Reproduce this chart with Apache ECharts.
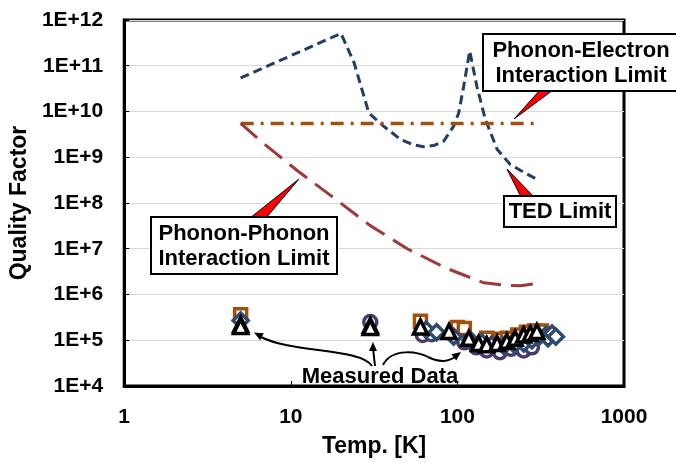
<!DOCTYPE html>
<html><head><meta charset="utf-8">
<script src="https://cdn.jsdelivr.net/npm/echarts@6/dist/echarts.min.js"></script>
<style>html,body{margin:0;padding:0;background:#fff}#c{width:676px;height:463px}</style>
</head><body><div id="c"></div>
<script>
// ---- data ----
var tedT = [5, 20, 24, 29.4, 36, 45.6, 55, 62.8, 72, 82.8, 95, 101.8, 109, 118.5, 131, 147, 173, 207, 250, 300];
var tedQ = [5.4e10, 5.1e11, 1.15e11, 9.3e9, 4.8e9, 2.45e9, 1.85e9, 1.7e9, 1.8e9, 2.25e9, 4.8e9, 9.3e9, 3.5e10, 2.1e11, 3.5e10, 6.8e9, 1.5e9, 7e8, 4.7e8, 3.3e8];
var elT = [5, 300];
var elQ = [5.5e9, 5.5e9];
var phT = [5, 6.6, 8.5, 11, 17.4, 30, 50, 86.7, 144, 190, 240, 300];
var phQ = [5.5e9, 2.25e9, 1.07e9, 5e8, 1.45e8, 3.2e7, 1e7, 3.7e6, 1.8e6, 1.6e6, 1.55e6, 1.75e6];
var sqT = [5, 60, 100, 110, 150, 180, 200, 230, 260, 290, 320];
var sqQ = [3.6e5, 2.6e5, 1.9e5, 1.8e5, 1.1e5, 1.05e5, 1.1e5, 1.3e5, 1.5e5, 1.6e5, 1.6e5];
var ciT = [30, 62, 70, 110, 130, 150, 180, 210, 250, 280];
var ciQ = [2.5e5, 1.3e5, 1.35e5, 9e4, 7e4, 6e4, 5.5e4, 6.5e4, 6e4, 7e4];
var diT = [5, 65, 75, 95, 120, 140, 160, 190, 220, 250, 280, 310, 340, 350, 370, 390];
var diQ = [2.7e5, 1.7e5, 1.5e5, 1.2e5, 1e5, 9e4, 8e4, 7.5e4, 8e4, 8.5e4, 1e5, 1.2e5, 1.3e5, 1.1e5, 1.4e5, 1.2e5];
var trT = [5, 5, 30, 30, 60, 89, 117, 134, 150, 173, 198, 222, 250, 274, 300];
var trQ = [2.2e5, 2.0e5, 2.1e5, 1.9e5, 1.95e5, 1.55e5, 1.1e5, 8.5e4, 8e4, 8.5e4, 9.5e4, 1.1e5, 1.3e5, 1.4e5, 1.55e5];
var xTicks = [1, 10, 100, 1000];

function pairs(a, b) { return a.map(function (v, i) { return [v, b[i]]; }); }
var FF = "'Liberation Sans', Arial, sans-serif";

var chart = echarts.init(document.getElementById('c'));
function markerSeries(name, sym, color, T, Q, size) {
  return { name: name, type: 'scatter', symbol: sym, symbolSize: size, data: pairs(T, Q),
    itemStyle: { color: '#fff', borderColor: color, borderWidth: 3.5, opacity: 1 }, z: 5 };
}
var option = {
  animation: false,
  grid: { left: 123, right: 52, top: 20, bottom: 75, show: true, borderColor: '#000', borderWidth: 3, backgroundColor: 'transparent' },
  xAxis: { type: 'log', logBase: 10, min: 1, max: 1000,
    name: 'Temp. [K]', nameLocation: 'middle', nameGap: 49,
    nameTextStyle: { fontFamily: FF, fontWeight: 'bold', fontSize: 23, color: '#000' },
    axisLine: { show: true, lineStyle: { color: '#000', width: 3 } },
    axisTick: { show: true, inside: true, length: 5, lineStyle: { color: '#000', width: 1 } },
    minorTick: { show: false }, splitLine: { show: false },
    axisLabel: { margin: 21, fontFamily: FF, fontWeight: 'bold', fontSize: 21, color: '#000',
      formatter: function (v) { return String(Math.round(v)); } } },
  yAxis: { type: 'log', logBase: 10, min: 1e4, max: 1e12,
    name: 'Quality Factor', nameLocation: 'middle', nameGap: 90,
    nameTextStyle: { fontFamily: FF, fontWeight: 'bold', fontSize: 23, color: '#000' },
    axisLine: { show: true, lineStyle: { color: '#000', width: 3 } },
    axisTick: { show: true, inside: true, length: 5, lineStyle: { color: '#000', width: 1 } },
    splitLine: { show: true, lineStyle: { color: '#d9d9d9', width: 1 } },
    axisLabel: { margin: 21, fontFamily: FF, fontWeight: 'bold', fontSize: 21, color: '#000',
      formatter: function (v) { return '1E+' + Math.round(Math.log10(v)); } } },
  series: [
    { name: 'TED Limit', type: 'line', data: pairs(tedT, tedQ), showSymbol: false, smooth: false,
      lineStyle: { color: '#213F66', width: 3, type: [9, 5] }, z: 2 },
    { name: 'Phonon-Electron', type: 'line', data: pairs(elT, elQ), showSymbol: false,
      lineStyle: { color: '#A2510C', width: 3.5, type: [13, 7, 3, 7] }, z: 2 },
    { name: 'Phonon-Phonon', type: 'line', data: pairs(phT, phQ), showSymbol: false,
      lineStyle: { color: '#9E3A3A', width: 3, type: [22, 10] }, z: 2 },
    markerSeries('sq', 'rect', '#A2510C', sqT, sqQ, 12),
    markerSeries('ci', 'circle', '#4A3A6E', ciT, ciQ, 13),
    markerSeries('di', 'diamond', '#2D4A70', diT, diQ, 15),
    markerSeries('tr', 'triangle', '#000', trT, trQ, 14)
  ],
  graphic: [
    // callout wedges
    { type: 'polygon', z: 50, shape: { points: [[540, 90], [553, 90], [514, 119]] }, style: { fill: '#f00', stroke: '#000', lineWidth: 1 } },
    { type: 'polygon', z: 50, shape: { points: [[521, 197], [534, 197], [507, 169]] }, style: { fill: '#f00', stroke: '#000', lineWidth: 1 } },
    { type: 'polygon', z: 50, shape: { points: [[250, 218], [266, 218], [299, 179]] }, style: { fill: '#f00', stroke: '#000', lineWidth: 1 } },
    // boxes
    { type: 'rect', z: 51, shape: { x: 483, y: 34, width: 200, height: 57 }, style: { fill: '#fff', stroke: '#000', lineWidth: 2 } },
    { type: 'text', z: 52, x: 581, y: 63, style: { text: 'Phonon-Electron\nInteraction Limit', fill: '#000', font: 'bold 22px ' + FF, textAlign: 'center', textVerticalAlign: 'middle', lineHeight: 25 } },
    { type: 'rect', z: 51, shape: { x: 504, y: 196, width: 112, height: 31 }, style: { fill: '#fff', stroke: '#000', lineWidth: 2 } },
    { type: 'text', z: 52, x: 560, y: 212, style: { text: 'TED Limit', fill: '#000', font: 'bold 22px ' + FF, textAlign: 'center', textVerticalAlign: 'middle' } },
    { type: 'rect', z: 51, shape: { x: 151, y: 217, width: 186, height: 57 }, style: { fill: '#fff', stroke: '#000', lineWidth: 2 } },
    { type: 'text', z: 52, x: 244, y: 246, style: { text: 'Phonon-Phonon\nInteraction Limit', fill: '#000', font: 'bold 22px ' + FF, textAlign: 'center', textVerticalAlign: 'middle', lineHeight: 25 } },
    // measured data label + arrows
    { type: 'text', z: 52, x: 380, y: 388, style: { text: 'Measured Data', fill: '#000', font: 'bold 22px ' + FF, textAlign: 'center', textVerticalAlign: 'bottom' } },
    { type: 'bezierCurve', z: 52, shape: { x1: 372, y1: 366, cpx1: 360, cpy1: 348, cpx2: 292, cpy2: 353, x2: 261, y2: 337 }, style: { stroke: '#000', lineWidth: 2, fill: null } },
    { type: 'polygon', z: 52, shape: { points: [[254, 332.5], [263.8, 333.2], [260.1, 340.2]] }, style: { fill: '#000' } },
    { type: 'line', z: 52, shape: { x1: 375, y1: 366, x2: 373, y2: 348 }, style: { stroke: '#000', lineWidth: 2 } },
    { type: 'polygon', z: 52, shape: { points: [[373, 342], [369, 351], [377, 351]] }, style: { fill: '#000' } },
    { type: 'bezierCurve', z: 52, shape: { x1: 383, y1: 365, cpx1: 392, cpy1: 347, cpx2: 420, cpy2: 352, x2: 428, y2: 357 }, style: { stroke: '#000', lineWidth: 2, fill: null } },
    { type: 'bezierCurve', z: 52, shape: { x1: 428, y1: 357, cpx1: 440, cpy1: 363, cpx2: 448, cpy2: 362, x2: 455, y2: 357 }, style: { stroke: '#000', lineWidth: 2, fill: null } },
    { type: 'polygon', z: 52, shape: { points: [[461, 352], [456.2, 360.6], [451.4, 354.2]] }, style: { fill: '#000' } }
  ]
};
chart.setOption(option);
</script></body></html>
